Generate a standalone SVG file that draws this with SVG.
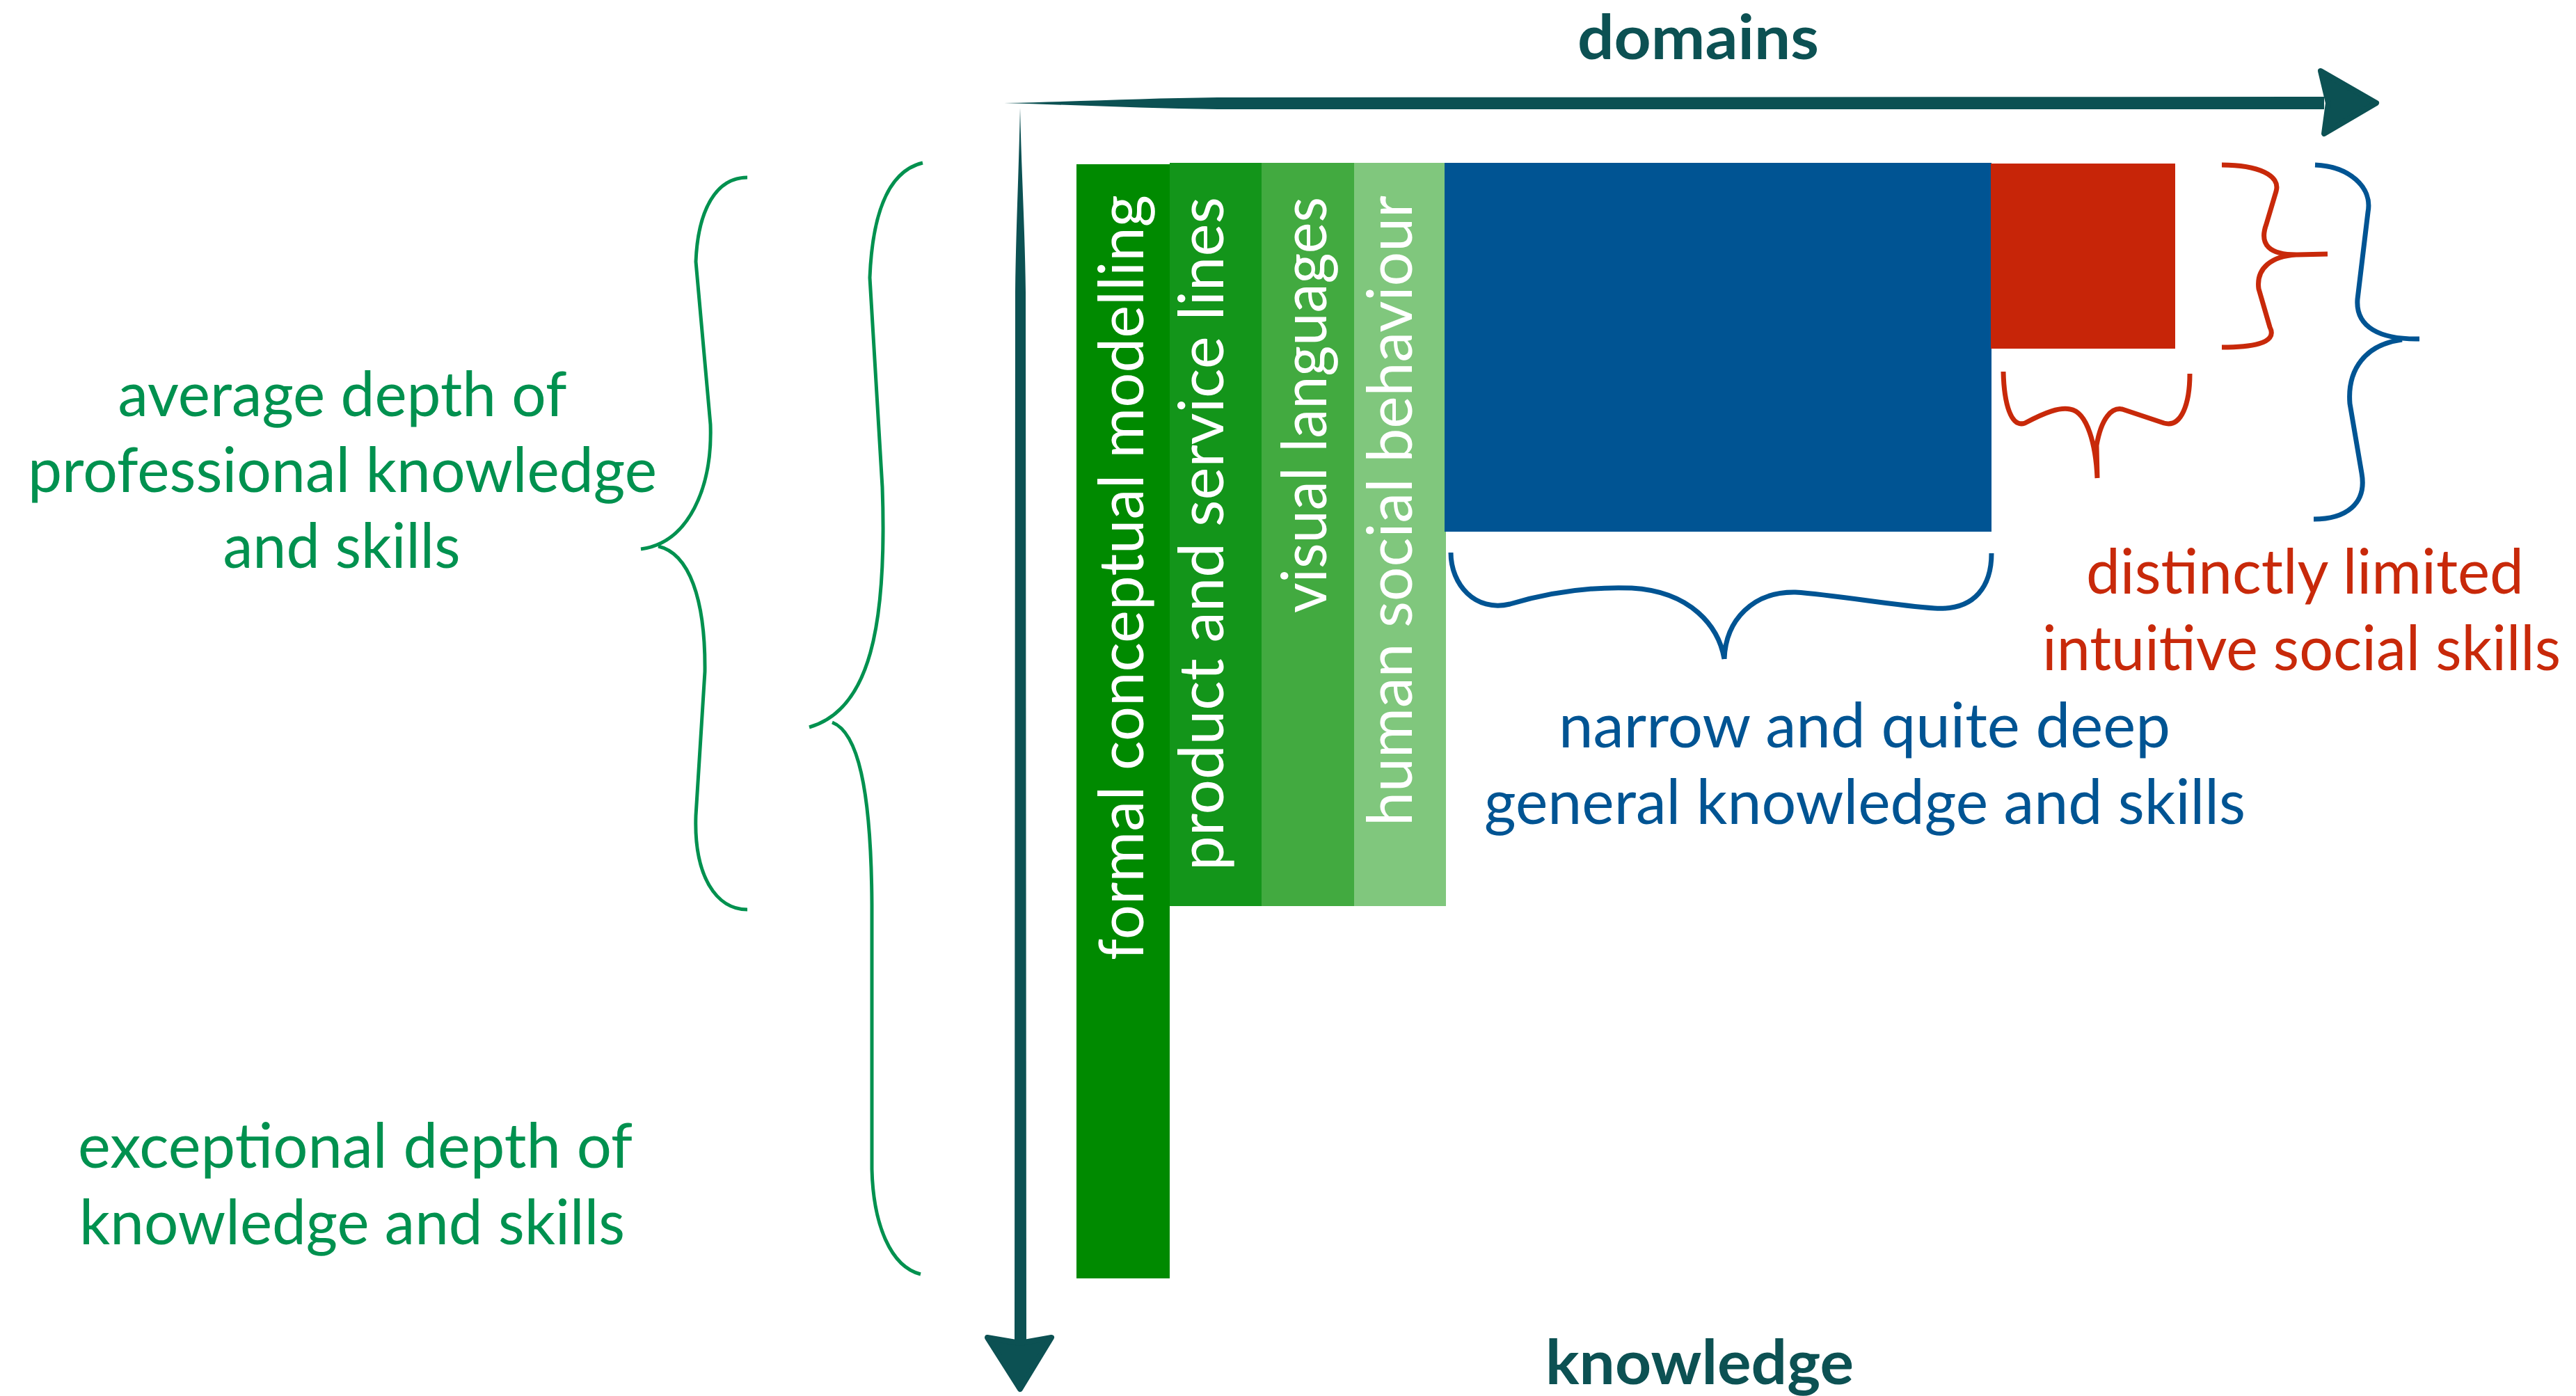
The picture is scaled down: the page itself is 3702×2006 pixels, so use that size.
<svg xmlns="http://www.w3.org/2000/svg" width="3702" height="2006" viewBox="0 0 3702 2006">
<style>
text{font-family:Lato,"Open Sans","Liberation Sans",sans-serif;font-size:90px}
.axis{font-weight:bold;fill:#0c5153;font-size:88px}
.bar{fill:#ffffff;font-size:90px}
.g{fill:#00914f}
.b{fill:#005493}
.r{fill:#c8290a}
.brace{fill:none;stroke-linecap:butt;stroke-linejoin:round}
</style>
<rect width="3702" height="2006" fill="#ffffff"/>

<g id="axes">
  <path d="M1443,148 C1550,146 1650,141 1750,140 L3340,139 L3340,157 L1750,157 C1650,156 1550,151 1443,148 Z" fill="#0c5153"/>
  <path d="M3335,102 L3415,148 L3340,192 L3346,148 Z" fill="#0c5153" stroke="#0c5153" stroke-width="8" stroke-linejoin="round"/>
  <path d="M1466,155 C1468,250 1473,330 1474,420 L1475,1928 L1458,1928 L1459,420 C1460,330 1464,250 1466,155 Z" fill="#0c5153"/>
  <path d="M1419,1922 L1466,1996 L1511,1922 L1466,1930 Z" fill="#0c5153" stroke="#0c5153" stroke-width="8" stroke-linejoin="round"/>
  <text class="axis" x="2267" y="85" textLength="347" lengthAdjust="spacingAndGlyphs">domains</text>
  <text class="axis" x="2221" y="1989" textLength="443" lengthAdjust="spacingAndGlyphs">knowledge</text>
</g>

<g id="formal-conceptual-modelling">
  <rect x="1547" y="236" width="134" height="1601" fill="#008a00"/>
  <text class="bar" transform="translate(1643,280) rotate(-90)" text-anchor="end" textLength="1100" lengthAdjust="spacingAndGlyphs">formal conceptual modelling</text>
</g>
<g id="product-and-service-lines">
  <rect x="1681" y="234" width="132" height="1068" fill="#13951a"/>
  <text class="bar" transform="translate(1758,283) rotate(-90)" text-anchor="end" textLength="968" lengthAdjust="spacingAndGlyphs">product and service lines</text>
</g>
<g id="visual-languages">
  <rect x="1813" y="234" width="133" height="1068" fill="#42aa40"/>
  <text class="bar" transform="translate(1906,283) rotate(-90)" text-anchor="end" textLength="598" lengthAdjust="spacingAndGlyphs">visual languages</text>
</g>
<g id="human-social-behaviour">
  <rect x="1946" y="234" width="132" height="1068" fill="#80c77d"/>
  <text class="bar" transform="translate(2029,281) rotate(-90)" text-anchor="end" textLength="906" lengthAdjust="spacingAndGlyphs">human social behaviour</text>
</g>
<g id="general-knowledge">
  <rect x="2076" y="234" width="786" height="530" fill="#005493"/>
</g>
<g id="social-skills">
  <rect x="2861" y="235" width="265" height="266" fill="#c72508"/>
</g>

<g id="braces">
  <path class="brace" stroke="#00914f" stroke-width="5" d="M1074,255 C1030,255 1003,300 1000,376 L1021,610 C1024,700 990,780 921,789 M946,785 C990,795 1014,860 1013,965 L1000,1172 C997,1260 1030,1307 1074,1307"/>
  <path class="brace" stroke="#00914f" stroke-width="5" d="M1326,234 C1280,245 1254,300 1250,399 L1268,700 C1275,900 1250,1020 1163,1045 M1196,1038 C1232,1052 1252,1130 1253,1300 L1253,1680 C1255,1760 1280,1820 1323,1831"/>
  <path class="brace" stroke="#005493" stroke-width="7" d="M2085,794 C2085,840 2120,880 2170,868 C2230,850 2290,843 2345,845 C2430,850 2470,900 2478,947 M2478,947 C2480,890 2520,850 2580,851 C2640,855 2720,870 2780,874 C2840,878 2862,840 2862,795"/>
  <path class="brace" stroke="#c8290a" stroke-width="7" d="M2879,534 C2880,580 2890,615 2910,608 C2940,592 2960,585 2975,588 C3000,592 3012,640 3014,687 M3014,687 L3013,640 C3020,600 3035,585 3050,588 L3110,608 C3135,615 3147,580 3147,537"/>
  <path class="brace" stroke="#c8290a" stroke-width="7" d="M3193,237 C3245,237 3278,252 3271,275 L3257,322 C3246,352 3262,366 3300,366 L3345,365 M3300,366 C3265,368 3242,385 3246,415 L3262,470 C3275,495 3230,499 3193,499"/>
  <path class="brace" stroke="#005493" stroke-width="7" d="M3327,237 C3375,239 3410,268 3403,305 L3388,430 C3385,470 3420,488 3477,487 M3452,488 C3400,495 3373,530 3377,580 L3394,680 C3402,725 3370,746 3325,746"/>
</g>

<g id="labels">
  <text class="g" x="492" y="598" text-anchor="middle" textLength="645" lengthAdjust="spacingAndGlyphs">average depth of</text>
  <text class="g" x="492" y="707" text-anchor="middle" textLength="904" lengthAdjust="spacingAndGlyphs">professional knowledge</text>
  <text class="g" x="491" y="816" text-anchor="middle" textLength="341" lengthAdjust="spacingAndGlyphs">and skills</text>
  <text class="g" x="112" y="1678" textLength="797" lengthAdjust="spacingAndGlyphs">exceptional depth of</text>
  <text class="g" x="114" y="1788" textLength="784" lengthAdjust="spacingAndGlyphs">knowledge and skills</text>
  <text class="b" x="2240" y="1074" textLength="879" lengthAdjust="spacingAndGlyphs">narrow and quite deep</text>
  <text class="b" x="2133" y="1184" textLength="1094" lengthAdjust="spacingAndGlyphs">general knowledge and skills</text>
  <text class="r" x="2998" y="853" textLength="629" lengthAdjust="spacingAndGlyphs">distinctly limited</text>
  <text class="r" x="2935" y="963" textLength="745" lengthAdjust="spacingAndGlyphs">intuitive social skills</text>
</g>
</svg>
